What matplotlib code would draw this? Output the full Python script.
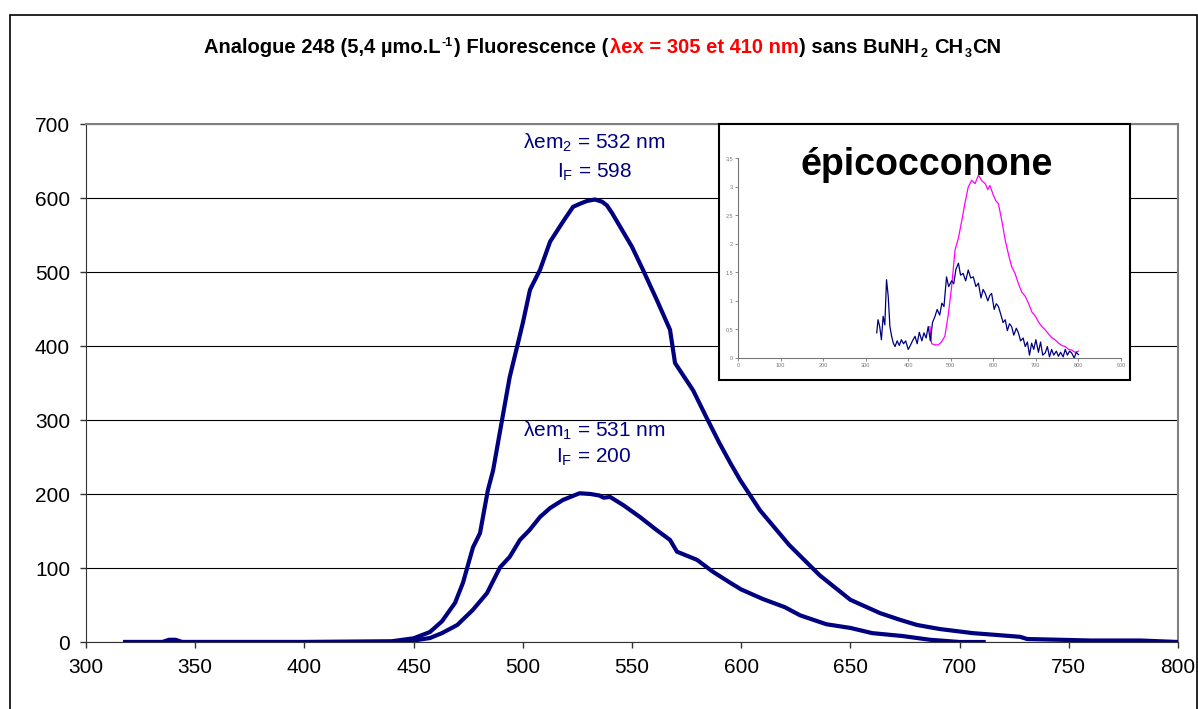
import matplotlib
matplotlib.use("Agg")
import matplotlib.pyplot as plt
from matplotlib.patches import Rectangle
from matplotlib.transforms import IdentityTransform

plt.rcParams['font.family'] = ['Liberation Sans', 'DejaVu Sans']
plt.rcParams['mathtext.fontset'] = 'custom'
plt.rcParams['mathtext.rm'] = 'Liberation Sans'
plt.rcParams['mathtext.default'] = 'regular'

# emission spectra (wavelength nm, intensity)
em2_x = [318, 335, 338, 341, 344, 350, 400, 440, 450, 457.5, 463, 469, 472.6, 477.2, 480.4,
         484, 486.4, 490.5, 494, 497.8, 500, 503.3, 507.9, 512.5, 518.4, 523, 526, 529.4,
         533, 536.3, 538.5, 540.8, 545.4, 550, 555, 561.4, 567.4, 569.7, 578, 584, 590,
         595, 599.5, 608.6, 622, 636, 650, 663.6, 672.7, 680.5, 691, 706, 717, 727.7, 731,
         746, 760, 783, 800]
em2_y = [0, 0, 3, 3, 0, 0, 0, 1, 5, 13.5, 28, 53, 80, 128, 147, 205, 232, 300, 358, 404,
         431, 476, 503, 541, 568, 588, 592, 596, 598, 595, 590, 580, 557, 534, 503, 462,
         422, 377, 340, 304, 269, 242, 219, 178, 131, 90, 57, 39, 30, 23, 17.5, 12, 9.5, 7,
         4, 3, 2, 2, 0]

em1_x = [318, 440, 450, 457.5, 463, 470, 477, 483.6, 489.6, 494, 498.7, 503, 507.9, 512.5,
         518.4, 526, 531, 535, 537, 540, 546, 553.6, 561.4, 567.4, 570.6, 579.8, 587, 595,
         600, 610, 620, 627, 639, 650, 660, 674, 686.5, 700, 711]
em1_y = [0, 0, 2, 5.4, 12, 23, 43, 66, 101, 115, 138, 151, 169, 181, 192, 201, 200, 198,
         195, 196, 185, 169, 151, 138, 122, 111, 95, 80, 71, 58, 47, 36, 24, 19, 12, 8, 3,
         0, 0]

# inset: epicocconone spectra
ins_blue_x = [326, 329, 333, 337, 341, 345, 349, 353, 357, 361, 365, 369, 374, 379, 384,
              389, 394, 400, 405, 410, 416, 421, 426, 432, 437, 442, 447, 452, 457, 463,
              468, 474, 479, 484, 490, 495, 502, 507, 512, 518, 523, 529, 535, 541, 547,
              553, 559, 565, 571, 576, 581, 587, 592, 596, 602, 607, 612, 618, 623, 628,
              633, 638, 643, 648, 654, 659, 664, 670, 675, 680, 685, 690, 695, 700, 706,
              711, 716, 722, 727, 732, 737, 742, 748, 753, 758, 764, 769, 774, 779, 784,
              790, 795, 800]
ins_blue_y = [0.44, 0.67, 0.55, 0.32, 0.73, 0.58, 1.37, 1.08, 0.55, 0.38, 0.26, 0.20, 0.30,
              0.22, 0.32, 0.25, 0.30, 0.15, 0.22, 0.30, 0.38, 0.25, 0.45, 0.30, 0.44, 0.35,
              0.55, 0.30, 0.62, 0.73, 0.85, 0.75, 0.96, 0.90, 1.42, 1.25, 1.35, 1.30, 1.55,
              1.66, 1.45, 1.48, 1.35, 1.54, 1.40, 1.42, 1.25, 1.31, 1.05, 1.20, 1.13, 1.00,
              1.10, 1.13, 0.85, 0.95, 0.90, 0.75, 0.62, 0.67, 0.48, 0.60, 0.55, 0.40, 0.52,
              0.44, 0.30, 0.35, 0.20, 0.28, 0.05, 0.26, 0.15, 0.32, 0.10, 0.28, 0.05, 0.09,
              0.20, 0.02, 0.15, 0.05, 0.12, 0.03, 0.10, 0.02, 0.15, 0.05, 0.12, 0.09, 0.0,
              0.10, 0.06]
ins_pink_x = [451, 455, 463, 471, 478, 486, 494, 502, 510, 518, 526, 533, 541, 549, 557,
              565, 573, 581, 587, 592, 600, 606, 612, 620, 628, 636, 643, 651, 659, 667,
              675, 683, 691, 699, 707, 714, 722, 730, 738, 745, 753, 761, 769, 777, 784,
              792, 800]
ins_pink_y = [0.55, 0.25, 0.23, 0.23, 0.28, 0.38, 0.75, 1.25, 1.89, 2.10, 2.41, 2.70, 2.99,
              3.11, 3.05, 3.20, 3.10, 3.05, 2.95, 3.02, 2.85, 2.75, 2.70, 2.40, 2.06, 1.80,
              1.60, 1.48, 1.30, 1.15, 1.08, 0.95, 0.80, 0.73, 0.62, 0.55, 0.49, 0.42, 0.35,
              0.32, 0.26, 0.22, 0.20, 0.15, 0.14, 0.10, 0.12]

x_ticks = [300, 350, 400, 450, 500, 550, 600, 650, 700, 750, 800]
y_ticks = [0, 100, 200, 300, 400, 500, 600, 700]
ins_xticks = [0, 100, 200, 300, 400, 500, 600, 700, 800, 900]
ins_yticks = [0, 0.5, 1, 1.5, 2, 2.5, 3, 3.5]
ins_ylabels = ['0', '0,5', '1', '1,5', '2', '2,5', '3', '3,5']

W, H = 1198, 709
fig = plt.figure(figsize=(W / 100, H / 100), dpi=100)

navy = '#000080'

# main plot
ax = fig.add_axes([86 / W, 1 - 642 / H, (1178 - 86) / W, (642 - 124) / H])
ax.plot(em2_x, em2_y, color=navy, lw=3, solid_joinstyle='round', zorder=3)
ax.plot(em1_x, em1_y, color=navy, lw=3, solid_joinstyle='round', zorder=3)
ax.set_xlim(300, 800)
ax.set_ylim(0, 700)
ax.set_xticks(x_ticks)
ax.set_yticks(y_ticks)
ax.yaxis.grid(True, color='black', lw=0.8)
ax.set_axisbelow(True)
ax.tick_params(direction='out', length=4.5, width=1, colors='#333333',
               labelsize=15, labelcolor='black', pad=7)
for s in ['left', 'bottom']:
    ax.spines[s].set_color('#333333')
for s in ['top', 'right']:
    ax.spines[s].set_color('#808080')
    ax.spines[s].set_linewidth(1.5)

# peak annotations
ax.text(532.6, 674, r'λem$_2$ = 532 nm', color=navy, fontsize=15, ha='center', va='center')
ax.text(532.6, 635, r'I$_F$ = 598', color=navy, fontsize=15, ha='center', va='center')
ax.text(532.6, 286, r'λem$_1$ = 531 nm', color=navy, fontsize=15, ha='center', va='center')
ax.text(532.6, 249, r'I$_F$ = 200', color=navy, fontsize=15, ha='center', va='center')

# inset frame
fig.patches.append(Rectangle((719 / W, 1 - 380 / H), 411 / W, 256 / H,
                             transform=fig.transFigure, facecolor='white',
                             edgecolor='black', lw=1.5, zorder=2))

ins = fig.add_axes([738 / W, 1 - 358 / H, (1121 - 738) / W, (358 - 158) / H])
ins.set_zorder(3)
ins.patch.set_alpha(0)
ins.plot(ins_pink_x, ins_pink_y, color='#ff00ff', lw=0.9)
ins.plot(ins_blue_x, ins_blue_y, color=navy, lw=0.9)
ins.set_xlim(0, 900)
ins.set_ylim(0, 3.5)
ins.set_xticks(ins_xticks)
ins.set_yticks(ins_yticks, ins_ylabels)
ins.tick_params(direction='out', length=2, width=0.6, colors='#777777',
                labelsize=4, pad=1.5)
for s in ['top', 'right']:
    ins.spines[s].set_visible(False)
for s in ['left', 'bottom']:
    ins.spines[s].set_color('#777777')
    ins.spines[s].set_linewidth(0.8)
fig.text(927 / W, 1 - 175 / H, 'épicocconone', fontsize=27, fontweight='bold',
         ha='center', va='baseline', zorder=5)

# outer chart border
fig.patches.append(Rectangle((10 / W, -0.05), (1197 - 10) / W, 1 - 15 / H + 0.05,
                             transform=fig.transFigure, fill=False,
                             edgecolor='black', lw=1.2, zorder=1))

# title with coloured part, sub- and superscripts
renderer = fig.canvas.get_renderer()
base_y = H - 53
parts = [('Analogue 248 (5,4 µmo.L', 'black', 14.5, 0, 0),
         ('-1', 'black', 9, 7, 1),
         (') Fluorescence (', 'black', 14.5, 0, 0),
         ('λex = 305 et 410 nm', 'red', 14.5, 0, 0),
         (') sans BuNH', 'black', 14.5, 0, 0),
         ('2', 'black', 9, -4, 6),
         ('CH', 'black', 14.5, 0, 0),
         ('3', 'black', 9, -4, 0),
         ('CN', 'black', 14.5, 0, 0)]
texts = []
x = 0
for s, c, size, dy, gap in parts:
    t = fig.text(0, 0, s, color=c, fontsize=size, fontweight='bold',
                 ha='left', va='baseline', transform=IdentityTransform())
    w = t.get_window_extent(renderer=renderer).width
    texts.append((t, x, dy))
    x += w + gap + 1
start = 603 - x / 2
for t, off, dy in texts:
    t.set_position((start + off, base_y + dy))

fig.savefig('out.png', dpi=100, facecolor='white')
